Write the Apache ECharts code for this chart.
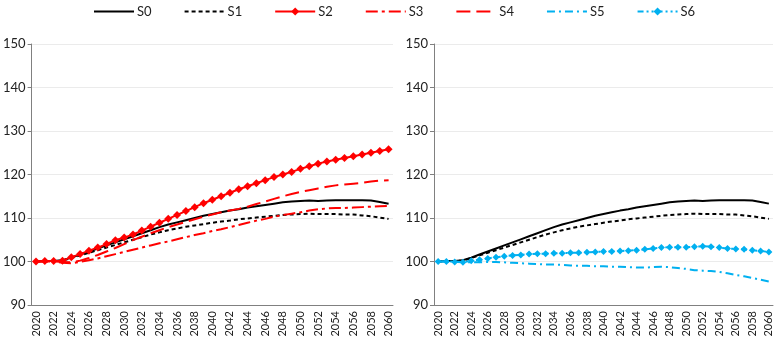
<!DOCTYPE html>
<html>
<head>
<meta charset="utf-8">
<script src="https://cdn.jsdelivr.net/npm/echarts@6/dist/echarts.min.js"></script>
<style>
  html, body { margin: 0; padding: 0; background: #fff; }
  #chart { width: 778px; height: 340px; }
</style>
</head>
<body>
<div id="chart"></div>
<script>
// years 2020..2060
var years = [];
for (var y = 2020; y <= 2060; y++) years.push(String(y));

var yTicks = [90, 100, 110, 120, 130, 140, 150];

var s0 = [100, 100.1, 100.1, 100.3, 100.9, 101.6, 102.3, 103.0, 103.7, 104.4,
    105.1, 105.8, 106.5, 107.2, 107.9, 108.5, 109.0, 109.5, 110.0, 110.5,
    110.9, 111.3, 111.7, 112.0, 112.4, 112.7, 113.0, 113.3, 113.6, 113.8,
    113.9, 114.0, 113.9, 114.0, 114.1, 114.1, 114.1, 114.1, 114.0, 113.7, 113.3];

var s1 = [100, 100.1, 100.1, 100.2, 100.8, 101.4, 102.0, 102.6, 103.2, 103.8,
    104.4, 105.0, 105.6, 106.2, 106.7, 107.2, 107.6, 108.0, 108.3, 108.6,
    108.9, 109.2, 109.4, 109.7, 109.9, 110.1, 110.3, 110.5, 110.7, 110.8,
    110.9, 111.0, 110.9, 110.9, 110.9, 110.8, 110.8, 110.6, 110.4, 110.1, 109.8];

var s2 = [100, 100.1, 100.1, 100.2, 101.0, 101.7, 102.5, 103.2, 104.0, 104.9,
    105.5, 106.2, 107.1, 108.0, 108.9, 109.8, 110.7, 111.6, 112.5, 113.4,
    114.2, 115.0, 115.8, 116.6, 117.3, 118.0, 118.7, 119.4, 120.0, 120.6,
    121.3, 121.9, 122.5, 123.0, 123.4, 123.8, 124.2, 124.6, 125.0, 125.4, 125.8];

var s3 = [100, 100, 100, 99.7, 99.6, 99.9, 100.3, 100.7, 101.2, 101.7,
    102.2, 102.7, 103.2, 103.7, 104.2, 104.6, 105.1, 105.6, 106.1, 106.5,
    107.0, 107.4, 107.9, 108.4, 108.9, 109.4, 109.8, 110.3, 110.7, 111.0,
    111.3, 111.7, 112.0, 112.2, 112.3, 112.3, 112.4, 112.5, 112.6, 112.7, 112.8];

var s4 = [100, 100, 100, 99.9, 99.8, 100.2, 100.8, 101.5, 102.3, 103.1,
    104.0, 104.9, 105.7, 106.5, 107.2, 107.9, 108.5, 109.1, 109.7, 110.3,
    110.8, 111.3, 111.7, 112.1, 112.6, 113.2, 113.8, 114.4, 115.0, 115.5,
    116.0, 116.4, 116.8, 117.2, 117.5, 117.7, 117.9, 118.1, 118.4, 118.6, 118.7];

var s5 = [100, 100, 100, 99.9, 99.8, 99.8, 99.9, 99.9, 99.8, 99.7,
    99.6, 99.5, 99.4, 99.3, 99.3, 99.2, 99.1, 99.0, 99.0, 98.9,
    98.9, 98.8, 98.8, 98.7, 98.6, 98.6, 98.7, 98.8, 98.7, 98.5,
    98.3, 98.0, 97.9, 97.8, 97.6, 97.3, 96.9, 96.6, 96.2, 95.8, 95.4];

var s6 = [100, 100, 99.9, 99.8, 100.2, 100.4, 100.7, 101.0, 101.2, 101.4,
    101.5, 101.7, 101.8, 101.8, 101.9, 101.9, 102.0, 102.0, 102.1, 102.2,
    102.3, 102.3, 102.4, 102.5, 102.6, 102.8, 103.0, 103.2, 103.3, 103.3,
    103.3, 103.4, 103.5, 103.4, 103.2, 103.0, 102.9, 102.8, 102.6, 102.4, 102.2];

var RED = '#ff0000';
var BLUE = '#00b0f0';
var FONT = 'Lato, "DejaVu Sans", sans-serif';

// one line series, panel = grid index
function line(name, data, panel, color, dash, symbol, symbolSize) {
    return {
        type: 'line',
        name: name,
        data: data,
        xAxisIndex: panel,
        yAxisIndex: panel,
        symbol: symbol || 'none',
        symbolSize: symbolSize || 0,
        showSymbol: !!symbol,
        showAllSymbol: true,
        itemStyle: { color: color },
        lineStyle: { color: color, width: 2, type: dash || 'solid' },
        animation: false
    };
}

function xAxis(idx) {
    return {
        type: 'category',
        gridIndex: idx,
        data: years,
        boundaryGap: true,
        axisLine: { lineStyle: { color: '#808080', width: 1 } },
        axisTick: { interval: 0, length: 4, lineStyle: { color: '#808080' } },
        axisLabel: { interval: 1, rotate: 90, color: '#222', fontSize: 11, fontFamily: FONT, margin: 6 },
        splitLine: { show: false }
    };
}

function yAxis(idx) {
    return {
        type: 'value',
        gridIndex: idx,
        min: yTicks[0],
        max: yTicks[yTicks.length - 1],
        interval: 10,
        axisLine: { show: true, lineStyle: { color: '#808080', width: 1 } },
        axisTick: { show: true, length: 4, lineStyle: { color: '#808080' } },
        axisLabel: { color: '#222', fontSize: 13, fontFamily: FONT, margin: 6 },
        splitLine: { lineStyle: { color: '#ebebeb', width: 1 } }
    };
}

// legend entries: plain lines get an invisible marker
function legendItem(name, marker) {
    return marker ? { name: name } : { name: name, itemStyle: { opacity: 0 } };
}

var chart = echarts.init(document.getElementById('chart'), null, { renderer: 'canvas' });

chart.setOption({
    animation: false,
    legend: {
        top: 0,
        left: 88,
        itemWidth: 40,
        itemHeight: 10,
        itemGap: 32,
        data: [
            legendItem('S0'), legendItem('S1'), legendItem('S2', true),
            legendItem('S3'), legendItem('S4'), legendItem('S5'), legendItem('S6', true)
        ],
        textStyle: { color: '#222', fontSize: 13, fontFamily: FONT, padding: [0, 0, 0, -2] }
    },
    grid: [
        { left: 30, right: 385, top: 44, bottom: 35 },
        { left: 434, right: 5, top: 44, bottom: 35 }
    ],
    xAxis: [xAxis(0), xAxis(1)],
    yAxis: [yAxis(0), yAxis(1)],
    series: [
        line('S0', s0, 0, '#000'),
        line('S1', s1, 0, '#000', [4, 3]),
        line('S2', s2, 0, RED, 'solid', 'diamond', 8),
        line('S3', s3, 0, RED, [12, 4, 3, 4]),
        line('S4', s4, 0, RED, [14, 6]),
        line('S0', s0, 1, '#000'),
        line('S1', s1, 1, '#000', [4, 3]),
        line('S5', s5, 1, BLUE, [8, 4, 2, 4]),
        line('S6', s6, 1, BLUE, [6, 3, 2, 3, 2, 3], 'diamond', 7)
    ]
});
</script>
</body>
</html>
